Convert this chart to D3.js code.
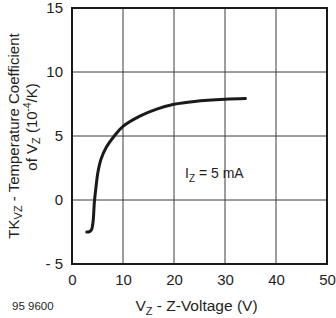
<!DOCTYPE html>
<html>
<head>
<meta charset="utf-8">
<script src="https://cdn.jsdelivr.net/npm/d3@7"></script>
<style>
  body { margin: 0; background: #fff; }
  svg { display: block; font-family: "Liberation Sans", Arial, sans-serif; }
</style>
</head>
<body>
<figure id="chart" style="margin:0"></figure>
<script>
// curve
const vz = [2.9, 3.4, 3.8, 4.1, 4.4, 4.7, 5.1, 5.7, 6.7, 8.3, 10, 13.3, 16.6, 20, 24, 30, 34];
const tk = [-2.5, -2.48, -2.35, -1.8, -0.1, 1.0, 2.2, 3.2, 4.1, 5.0, 5.75, 6.55, 7.1, 7.48, 7.7, 7.87, 7.92];
const xTicks = [0, 10, 20, 30, 40, 50];
const yTicks = [-5, 0, 5, 10, 15];
const yTickLabels = ["- 5", "0", "5", "10", "15"];

const W = 336, H = 318;
const margin = { top: 8, right: 9, bottom: 54, left: 72 };
const width = W - margin.left - margin.right;
const height = H - margin.top - margin.bottom;

const svg = d3.select("figure#chart")
  .append("svg")
  .attr("width", W)
  .attr("height", H);

const g = svg.append("g")
  .attr("transform", "translate(" + margin.left + "," + margin.top + ")");

const x = d3.scaleLinear().domain([0, 50]).range([0, width]);
const y = d3.scaleLinear().domain([-5, 15]).range([height, 0]);

// grid
g.selectAll(".vgrid")
  .data(xTicks)
  .enter()
  .append("line")
  .attr("x1", d => x(d)).attr("x2", d => x(d))
  .attr("y1", 0).attr("y2", height)
  .attr("stroke", "#3a3a3a")
  .attr("stroke-width", 1);

g.selectAll(".hgrid")
  .data(yTicks)
  .enter()
  .append("line")
  .attr("x1", 0).attr("x2", width)
  .attr("y1", d => y(d)).attr("y2", d => y(d))
  .attr("stroke", "#3a3a3a")
  .attr("stroke-width", 1);

// frame
g.append("rect")
  .attr("x", 0).attr("y", 0)
  .attr("width", width).attr("height", height)
  .attr("fill", "none")
  .attr("stroke", "#1a1a1a")
  .attr("stroke-width", 2);

// axes (labels only)
const xAxis = g.append("g")
  .attr("transform", "translate(0," + height + ")")
  .call(d3.axisBottom(x).tickValues(xTicks).tickSize(0).tickPadding(10));
xAxis.select(".domain").remove();
xAxis.selectAll("text")
  .attr("font-size", 15)
  .attr("font-family", "Liberation Sans, Arial, sans-serif")
  .attr("fill", "#1e1e1e");

const yAxis = g.append("g")
  .call(d3.axisLeft(y).tickValues(yTicks).tickSize(0).tickPadding(9)
    .tickFormat((d, i) => yTickLabels[i]));
yAxis.select(".domain").remove();
yAxis.selectAll("text")
  .attr("font-size", 15)
  .attr("font-family", "Liberation Sans, Arial, sans-serif")
  .attr("fill", "#1e1e1e");

// curve
const pts = vz.map((v, i) => [v, tk[i]]);
g.append("path")
  .datum(pts)
  .attr("fill", "none")
  .attr("stroke", "#1a1a1a")
  .attr("stroke-width", 3)
  .attr("stroke-linecap", "round")
  .attr("d", d3.line()
    .x(d => x(d[0]))
    .y(d => y(d[1]))
    .curve(d3.curveCatmullRom.alpha(0.5)));

// annotation
const ann = svg.append("text")
  .attr("x", 185).attr("y", 178)
  .attr("font-size", 14)
  .attr("fill", "#1e1e1e");
ann.append("tspan").text("I");
ann.append("tspan").attr("font-size", 10).attr("dy", 4).text("Z");
ann.append("tspan").attr("dy", -4).text(" = 5 mA");

// x label
const xl = svg.append("text")
  .attr("x", margin.left + width / 2 - 3).attr("y", 311)
  .attr("text-anchor", "middle")
  .attr("font-size", 15.5)
  .attr("fill", "#1e1e1e");
xl.append("tspan").text("V");
xl.append("tspan").attr("font-size", 11).attr("dy", 4).text("Z");
xl.append("tspan").attr("dy", -4).text(" - Z-Voltage (V)");

// y label (two lines)
const yl1 = svg.append("text")
  .attr("transform", "translate(19," + 136 + ") rotate(-90)")
  .attr("text-anchor", "middle")
  .attr("font-size", 15)
  .attr("fill", "#1e1e1e");
yl1.append("tspan").text("TK");
yl1.append("tspan").attr("font-size", 11).attr("dy", 3).text("VZ");
yl1.append("tspan").attr("dy", -3).text(" - Temperature Coefficient");

const yl2 = svg.append("text")
  .attr("transform", "translate(37," + 127 + ") rotate(-90)")
  .attr("text-anchor", "middle")
  .attr("font-size", 15)
  .attr("fill", "#1e1e1e");
yl2.append("tspan").text("of V");
yl2.append("tspan").attr("font-size", 11).attr("dy", 3).text("Z");
yl2.append("tspan").attr("dy", -3).text(" (10");
yl2.append("tspan").attr("font-size", 10).attr("dy", -6).text("-4");
yl2.append("tspan").attr("dy", 6).text("/K)");

// figure number
svg.append("text")
  .attr("x", 12).attr("y", 310)
  .attr("font-size", 11.5)
  .attr("fill", "#1e1e1e")
  .text("95 9600");
</script>
</body>
</html>
